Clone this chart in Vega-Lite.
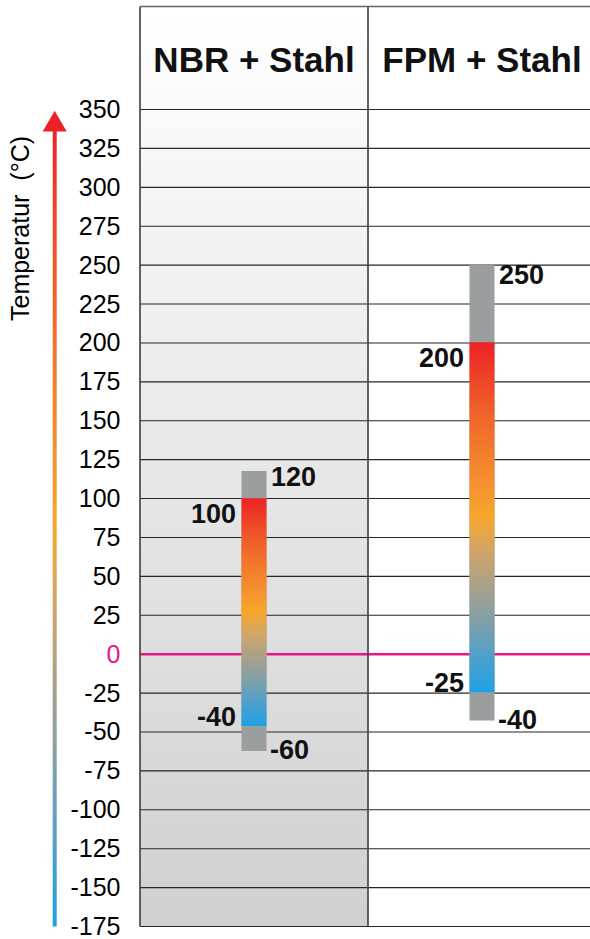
{
  "$schema": "https://vega.github.io/schema/vega-lite/v6.json",
  "width": 450,
  "height": 920,
  "autosize": {"type": "none"},
  "padding": {"left": 140, "top": 6.5, "right": 0, "bottom": 12.5},
  "background": "white",
  "config": {"view": {"stroke": null}, "font": "Liberation Sans"},
  "datasets": {
    "ticks": [
      {"v": -175}, {"v": -150}, {"v": -125}, {"v": -100}, {"v": -75}, {"v": -50}, {"v": -25},
      {"v": 25}, {"v": 50}, {"v": 75}, {"v": 100}, {"v": 125}, {"v": 150}, {"v": 175},
      {"v": 200}, {"v": 225}, {"v": 250}, {"v": 275}, {"v": 300}, {"v": 325}, {"v": 350}
    ],
    "materials": [
      {"material": "NBR + Stahl", "start": 0, "mid": 0.5, "end": 1, "lo": -62.2, "hi": 117.7, "tlo": -46.1, "thi": 100.2, "loLabel": -60, "hiLabel": 120, "tloLabel": -40, "thiLabel": 100},
      {"material": "FPM + Stahl", "start": 1, "mid": 1.5, "end": 1.97368, "lo": -42.7, "hi": 250.1, "tlo": -24.5, "thi": 200.4, "loLabel": -40, "hiLabel": 250, "tloLabel": -25, "thiLabel": 200}
    ]
  },
  "layer": [
    {
      "data": {"name": "materials"},
      "transform": [{"filter": "datum.start === 0"}],
      "mark": {"type": "rect", "fill": {"gradient": "linear", "x1": 0, "y1": 0, "x2": 0, "y2": 1, "stops": [{"offset": 0, "color": "#ffffff"}, {"offset": 1, "color": "#d0d0d0"}]}},
      "encoding": {
        "x": {"field": "start", "type": "quantitative", "scale": {"domain": [0, 1.97368], "nice": false, "zero": false, "padding": 0}, "axis": null},
        "x2": {"field": "end"}
      }
    },
    {
      "data": {"name": "ticks"},
      "mark": {"type": "rule", "color": "#262626", "strokeWidth": 1.1},
      "encoding": {
        "y": {
          "field": "v", "type": "quantitative",
          "scale": {"domain": [-175, 416.2], "nice": false, "zero": false, "padding": 0},
          "axis": {
            "title": "Temperatur\u00a0\u00a0(°C)",
            "values": [-175, -150, -125, -100, -75, -50, -25, 0, 25, 50, 75, 100, 125, 150, 175, 200, 225, 250, 275, 300, 325, 350],
            "labelExpr": "toString(datum.value)",
            "grid": false, "ticks": false, "tickSize": 0, "domain": false,
            "labelPadding": 20, "labelFontSize": 25, "labelFont": "Liberation Sans",
            "labelColor": {"condition": {"test": "datum.value === 0", "value": "#e8168b"}, "value": "#000000"},
            "labelOverlap": false, "labelFlush": false,
            "titleFont": "Liberation Sans", "titleFontSize": 25, "titleFontWeight": "normal", "titleColor": "#000000",
            "titleAngle": -90, "titleX": -112, "titleY": 221.5, "titleAlign": "center", "titleBaseline": "alphabetic"
          }
        }
      }
    },
    {
      "data": {"values": [{"v": 0}]},
      "mark": {"type": "rule", "color": "#e8168b", "strokeWidth": 2.5},
      "encoding": {"y": {"field": "v", "type": "quantitative"}}
    },
    {
      "data": {"name": "materials"},
      "mark": {"type": "rule", "color": "#484848", "strokeWidth": 1.7},
      "encoding": {"x": {"field": "start", "type": "quantitative", "axis": null}}
    },
    {
      "data": {"values": [{}]},
      "mark": {"type": "rule", "color": "#666666", "strokeWidth": 1.5},
      "encoding": {"y": {"datum": 416.2, "type": "quantitative"}}
    },
    {
      "data": {"name": "materials"},
      "mark": {"type": "text", "fontSize": 35, "fontWeight": "bold", "font": "Liberation Sans", "color": "#111111", "align": "center", "baseline": "middle"},
      "encoding": {
        "x": {"field": "mid", "type": "quantitative", "axis": null},
        "y": {"datum": 381, "type": "quantitative"},
        "text": {"field": "material", "type": "nominal"}
      }
    },
    {
      "data": {"name": "materials"},
      "mark": {"type": "bar", "size": 25, "color": "#9b9e9f"},
      "encoding": {
        "x": {"field": "mid", "type": "quantitative", "axis": null},
        "y": {"field": "lo", "type": "quantitative"},
        "y2": {"field": "hi"}
      }
    },
    {
      "data": {"name": "materials"},
      "mark": {"type": "bar", "size": 25, "fill": {"gradient": "linear", "x1": 0, "y1": 1, "x2": 0, "y2": 0, "stops": [
        {"offset": 0, "color": "#1ea1e5"}, {"offset": 0.1, "color": "#4ea0cc"}, {"offset": 0.2, "color": "#7fa0a8"},
        {"offset": 0.3, "color": "#a8a08b"}, {"offset": 0.4, "color": "#cfa56a"}, {"offset": 0.5, "color": "#f6a72b"},
        {"offset": 0.6, "color": "#f5902f"}, {"offset": 0.7, "color": "#f27a2c"}, {"offset": 0.8, "color": "#f0612a"},
        {"offset": 0.9, "color": "#ee4328"}, {"offset": 1, "color": "#ed2226"}]}},
      "encoding": {
        "x": {"field": "mid", "type": "quantitative", "axis": null},
        "y": {"field": "tlo", "type": "quantitative"},
        "y2": {"field": "thi"}
      }
    },
    {
      "data": {"name": "materials"},
      "mark": {"type": "text", "fontSize": 27, "fontWeight": "bold", "font": "Liberation Sans", "color": "#111111", "align": "left", "baseline": "top", "dx": 17, "dy": -2},
      "encoding": {
        "x": {"field": "mid", "type": "quantitative", "axis": null},
        "y": {"field": "hiLabel", "type": "quantitative"},
        "text": {"field": "hiLabel", "type": "nominal"}
      }
    },
    {
      "data": {"name": "materials"},
      "mark": {"type": "text", "fontSize": 27, "fontWeight": "bold", "font": "Liberation Sans", "color": "#111111", "align": "right", "baseline": "top", "dx": -18, "dy": 3.5},
      "encoding": {
        "x": {"field": "mid", "type": "quantitative", "axis": null},
        "y": {"field": "thiLabel", "type": "quantitative"},
        "text": {"field": "thiLabel", "type": "nominal"}
      }
    },
    {
      "data": {"name": "materials"},
      "mark": {"type": "text", "fontSize": 27, "fontWeight": "bold", "font": "Liberation Sans", "color": "#111111", "align": "right", "baseline": "alphabetic", "dx": -18, "dy": 0},
      "encoding": {
        "x": {"field": "mid", "type": "quantitative", "axis": null},
        "y": {"field": "tlo", "type": "quantitative"},
        "text": {"field": "tloLabel", "type": "nominal"}
      }
    },
    {
      "data": {"name": "materials"},
      "mark": {"type": "text", "fontSize": 27, "fontWeight": "bold", "font": "Liberation Sans", "color": "#111111", "align": "left", "baseline": "middle", "dx": 16, "dy": 0},
      "encoding": {
        "x": {"field": "mid", "type": "quantitative", "axis": null},
        "y": {"field": "lo", "type": "quantitative"},
        "text": {"field": "loLabel", "type": "nominal"}
      }
    },
    {
      "data": {"values": [{"x": -0.3741, "lo": -175, "hi": 338}]},
      "mark": {"type": "bar", "size": 4, "fill": {"gradient": "linear", "x1": 0, "y1": 1, "x2": 0, "y2": 0, "stops": [
        {"offset": 0, "color": "#1ea1e5"}, {"offset": 0.1, "color": "#4ea0cc"}, {"offset": 0.2, "color": "#7fa0a8"},
        {"offset": 0.3, "color": "#a8a08b"}, {"offset": 0.4, "color": "#cfa56a"}, {"offset": 0.5, "color": "#f6a72b"},
        {"offset": 0.6, "color": "#f5902f"}, {"offset": 0.7, "color": "#f27a2c"}, {"offset": 0.8, "color": "#f0612a"},
        {"offset": 0.9, "color": "#ee4328"}, {"offset": 1, "color": "#ed2226"}]}},
      "encoding": {
        "x": {"field": "x", "type": "quantitative", "axis": null},
        "y": {"field": "lo", "type": "quantitative"},
        "y2": {"field": "hi"}
      }
    },
    {
      "data": {"values": [{"x": -0.3741, "y": 342.5}]},
      "mark": {"type": "point", "shape": "triangle-up", "size": 576, "filled": true, "opacity": 1, "fill": "#ed2226", "strokeWidth": 0},
      "encoding": {
        "x": {"field": "x", "type": "quantitative", "axis": null},
        "y": {"field": "y", "type": "quantitative"}
      }
    }
  ]
}
